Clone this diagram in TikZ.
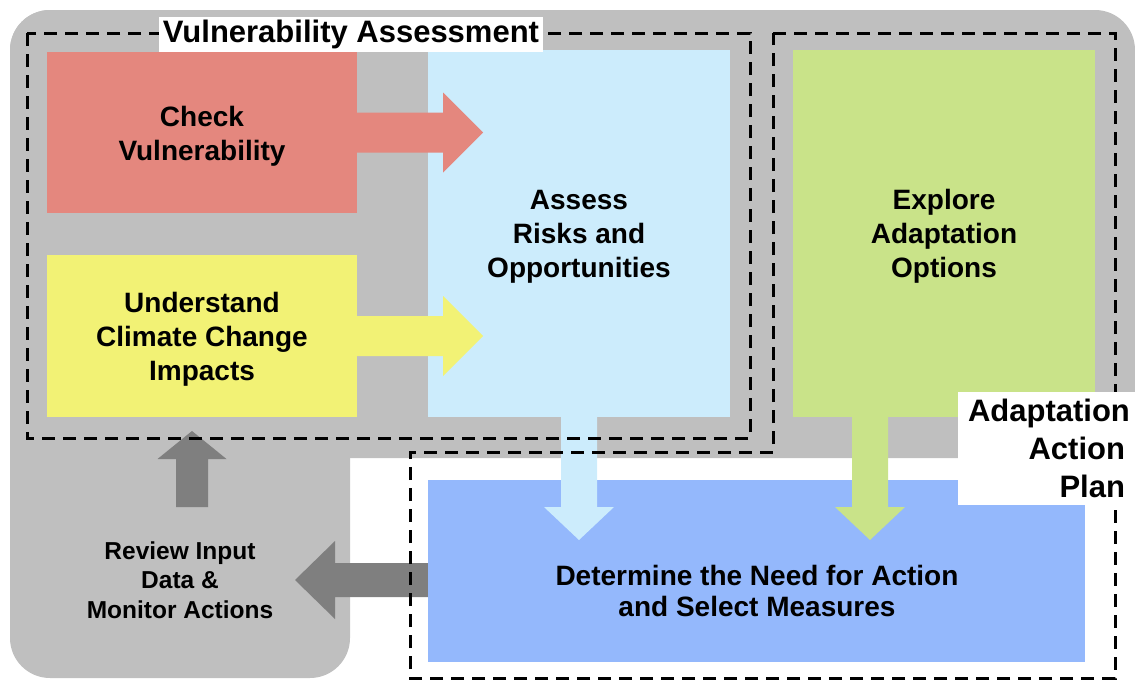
\documentclass[tikz,border=0pt]{standalone}
\usepackage{fontspec}
\setmainfont{Liberation Sans}
\usetikzlibrary{calc}
\definecolor{bggray}{HTML}{BFBFBF}
\definecolor{darkarrow}{HTML}{7F7F7F}
\definecolor{cred}{HTML}{E4877E}
\definecolor{cyellow}{HTML}{F2F275}
\definecolor{clblue}{HTML}{CCECFC}
\definecolor{cgreen}{HTML}{C9E389}
\definecolor{cblue}{HTML}{94B8FC}
% #1 colour, #2 start, #3 tip, #4 shaft half width, #5 head half width, #6 head length
\newcommand\blockarrow[6]{%
  \coordinate (hb) at ($(#3)!#6!(#2)$);
  \fill[#1] ($(#2)!#4!90:(#3)$) -- ($(hb)!#4!90:(#3)$) -- ($(hb)!#5!90:(#3)$)
    -- (#3) -- ($(hb)!#5!-90:(#3)$) -- ($(hb)!#4!-90:(#3)$) -- ($(#2)!#4!-90:(#3)$) -- cycle;
}
\begin{document}
\begin{tikzpicture}[x=1pt,y=-1pt,
  box/.style={draw=none,inner sep=0pt},
  txt/.style={inner sep=0pt,align=center,font=\fontsize{28}{34}\selectfont\bfseries},
  dashbox/.style={draw=black,line width=3pt,dash pattern=on 13pt off 8pt},
  lab/.style={fill=white,font=\fontsize{31}{38}\selectfont\bfseries}]
\useasboundingbox (0,0) rectangle (1135,680);
% background
\fill[bggray,rounded corners=40pt] (10,10) rectangle (1135,458);
\fill[bggray,rounded corners=40pt] (10,10) rectangle (350,678);
% boxes
\node[box,fill=cred,minimum width=310pt,minimum height=161pt] (check) at (202,132.5) {};
\node[box,fill=cyellow,minimum width=310pt,minimum height=162pt] (understand) at (202,336) {};
\node[box,fill=clblue,minimum width=302pt,minimum height=367pt] (assess) at (579,233.5) {};
\node[box,fill=cgreen,minimum width=302pt,minimum height=367pt] (explore) at (944,233.5) {};
\node[box,fill=cblue,minimum width=657pt,minimum height=182pt] (determine) at (756.5,571) {};
% box texts
\node[txt] (checktext) at ($(check.center)+(0,4)$) {Check\\Vulnerability};
\node[txt] (undtext) at ($(understand.center)+(0,3)$) {Understand\\Climate Change\\Impacts};
\node[txt] (asstext) at ($(assess.center)+(0,3)$) {Assess\\Risks and\\Opportunities};
\node[txt] (exptext) at ($(explore.center)+(0,3)$) {Explore\\Adaptation\\Options};
\node[txt,font=\fontsize{28}{31.5}\selectfont\bfseries] (dettext) at (757,591) {Determine the Need for Action\\and Select Measures};
\node[txt,font=\fontsize{24.5}{29.5}\selectfont\bfseries] (review) at (180,580) {Review Input\\Data \&\\Monitor Actions};
% arrow end points
\coordinate (t1) at (483,132.5);
\coordinate (t2) at (483,336);
\coordinate (t3) at (579,540);
\coordinate (gs) at (870,417);
\coordinate (t4) at (870,540);
\coordinate (ls) at (determine.west |- review.center);
\coordinate (t5) at (295,580);
\coordinate (us) at (192,507);
\coordinate (t6) at (192,431);
% arrows
\blockarrow{cred}{check.east}{t1}{20pt}{40pt}{40pt}
\blockarrow{cyellow}{understand.east}{t2}{20pt}{40pt}{40pt}
\blockarrow{clblue}{assess.south}{t3}{18pt}{35pt}{33pt}
\blockarrow{cgreen}{gs}{t4}{18pt}{35pt}{33pt}
\blockarrow{darkarrow}{ls}{t5}{17pt}{39pt}{40pt}
\blockarrow{darkarrow}{us}{t6}{16pt}{34.5pt}{28pt}
% dashed groups
\draw[dashbox] (27,33) rectangle (750,438);
\draw[dashbox] (773,33) -- (1115,33) -- (1115,678) -- (410,678) -- (410,452) -- (773,452) -- cycle;
% labels
\node[lab,inner xsep=4pt,inner ysep=1pt,minimum height=35pt] (vtitle) at (351,34) {Vulnerability Assessment};
\node[lab,align=right,text width=157pt,inner xsep=10pt,minimum height=113pt] (aaplab) at (1046.5,448.5) {Adaptation\\Action\\Plan};
\end{tikzpicture}
\end{document}
